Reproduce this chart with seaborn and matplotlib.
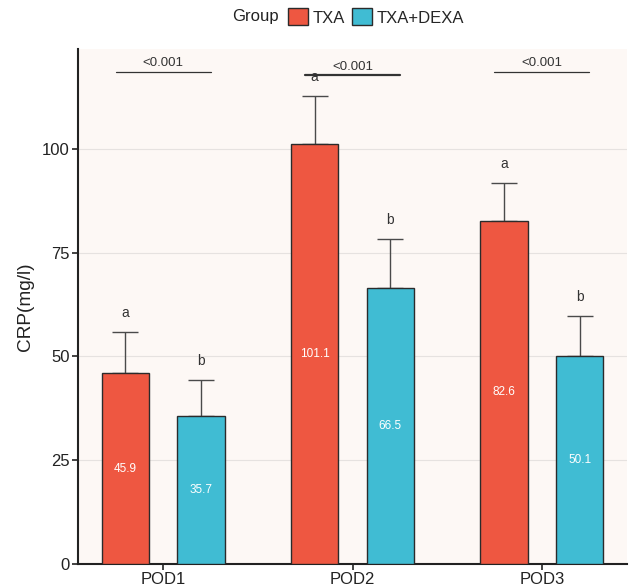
import numpy as np
import pandas as pd
import seaborn as sns
import matplotlib
matplotlib.use("Agg")
import matplotlib.pyplot as plt
from matplotlib.patches import Patch

# ---- data ----
days = ["POD1", "POD2", "POD3"]
groups = ["TXA", "TXA+DEXA"]
txa_mean = [45.9, 101.1, 82.6]
dexa_mean = [35.7, 66.5, 50.1]
txa_sd = [10.0, 11.5, 9.2]
dexa_sd = [8.6, 11.7, 9.5]
txa_letters = ["a", "a", "a"]
dexa_letters = ["b", "b", "b"]
p_values = ["<0.001", "<0.001", "<0.001"]
y_ticks = [0, 25, 50, 75, 100]

colors = {"TXA": "#EE5741", "TXA+DEXA": "#40BCD3"}

df = pd.DataFrame({
    "Day": days * 2,
    "Group": ["TXA"] * 3 + ["TXA+DEXA"] * 3,
    "CRP": txa_mean + dexa_mean,
    "SD": txa_sd + dexa_sd,
    "Letter": txa_letters + dexa_letters,
})

sns.set_theme(style="white")
plt.rcParams["font.family"] = ["Liberation Sans", "DejaVu Sans"]

fig = plt.figure(figsize=(6.29, 5.87), dpi=100)
ax = fig.add_axes([78 / 629, 1 - 564 / 587, (627 - 78) / 629, (564 - 49) / 587])
ax.set_facecolor("#FDF8F5")

sns.barplot(data=df, x="Day", y="CRP", hue="Group", order=days, hue_order=groups,
            palette=colors, saturation=1, errorbar=None, gap=0.375, edgecolor="#2b2b2b",
            linewidth=1.0, ax=ax, legend=False, zorder=3)

# error bars, letters and value labels from bar patches
bars = [p for p in ax.patches]
for i, g in enumerate(groups):
    sub = df[df["Group"] == g].set_index("Day").loc[days]
    for j, d in enumerate(days):
        bar = bars[i * len(days) + j]
        xc = bar.get_x() + bar.get_width() / 2
        m = sub.loc[d, "CRP"]
        s = sub.loc[d, "SD"]
        ax.errorbar([xc], [m], yerr=[[0], [s]], fmt="none", ecolor="#4a4a4a",
                    elinewidth=1.0, capsize=9.5, capthick=1.0, zorder=2)
        ax.text(xc, m + s + 4.6, sub.loc[d, "Letter"], ha="center", va="center",
                fontsize=10, color="#333333", zorder=5)
        ax.text(xc, m / 2, f"{m:.1f}", ha="center", va="center",
                fontsize=8.5, color="white", zorder=5)

# significance lines
sig_y = [118.5, 117.7, 118.5]
for j, d in enumerate(days):
    lw = 1.6 if j == 1 else 0.9
    ax.plot([j - 0.25, j + 0.25], [sig_y[j], sig_y[j]], color="#333333", lw=lw, zorder=4)
    ax.text(j, sig_y[j] + 0.6, p_values[j], ha="center", va="bottom",
            fontsize=9.5, color="#333333")

ax.set_ylim(0, 124)
ax.set_xlim(-0.45, 2.45)
ax.set_yticks(y_ticks)
ax.yaxis.grid(True, color="#E6E2E0", linewidth=0.8, zorder=0)
ax.set_axisbelow(True)
for side in ["top", "right"]:
    ax.spines[side].set_visible(False)
for side in ["left", "bottom"]:
    ax.spines[side].set_color("#222222")
    ax.spines[side].set_linewidth(1.5)
ax.tick_params(axis="both", which="major", length=4, width=1.2, color="#222222",
               labelsize=12, labelcolor="#222222", pad=2, direction="out",
               bottom=True, left=True)
ax.set_xlabel("")
ax.set_ylabel("CRP(mg/l)", fontsize=13.7, color="#222222", labelpad=6)

# legend
handles = [Patch(facecolor=colors[g], edgecolor="#2b2b2b", linewidth=1.0) for g in groups]
fig.legend(handles, groups, loc="center", bbox_to_anchor=(376 / 629, 1 - 17 / 587),
           ncol=2, frameon=False, fontsize=12, handlelength=1.2, handleheight=1.2,
           handletextpad=0.3, columnspacing=0.4, borderpad=0.2)
fig.text(279 / 629, 1 - 17 / 587, "Group", ha="right", va="center", fontsize=12,
         color="#222222")

fig.savefig("out.png", dpi=100)
